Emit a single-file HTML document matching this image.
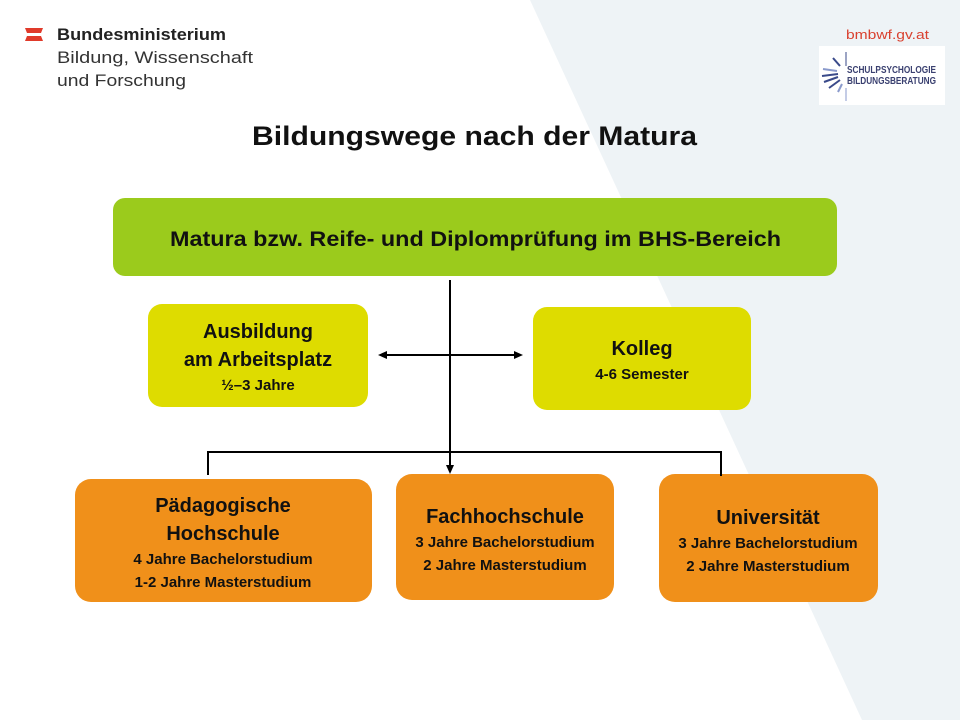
<!DOCTYPE html>
<html><head><meta charset="utf-8"><style>
html,body{margin:0;padding:0;width:960px;height:720px;overflow:hidden;background:#fff}
svg{display:block}
.b{font-family:"Liberation Sans",sans-serif;font-weight:bold;fill:#111}
</style></head><body>
<svg width="960" height="720" viewBox="0 0 960 720" xmlns="http://www.w3.org/2000/svg">
<polygon points="530,0 960,0 960,720 862,720" fill="#eef3f6"/>
<polygon points="25,28 43,28 41,33 27,33" fill="#e03a2a"/>
<polygon points="27,36 41,36 43,41 25,41" fill="#e03a2a"/>
<text x="57" y="40" font-family="Liberation Sans,sans-serif" font-size="17" fill="#222" font-weight="bold" textLength="169" lengthAdjust="spacingAndGlyphs">Bundesministerium</text>
<text x="57" y="63" font-family="Liberation Sans,sans-serif" font-size="17" fill="#333" textLength="196" lengthAdjust="spacingAndGlyphs">Bildung, Wissenschaft</text>
<text x="57" y="86" font-family="Liberation Sans,sans-serif" font-size="17" fill="#333" textLength="129" lengthAdjust="spacingAndGlyphs">und Forschung</text>
<text x="846" y="39" font-family="Liberation Sans,sans-serif" font-size="13" fill="#d9412f" textLength="83" lengthAdjust="spacingAndGlyphs">bmbwf.gv.at</text>
<rect x="819" y="46" width="126" height="59" fill="#fff"/>
<g stroke="#3a4a8a" stroke-width="2">
<line x1="833" y1="58" x2="840" y2="66"/><line x1="846" y1="52" x2="846" y2="66" stroke-width="1"/>
<line x1="823" y1="69" x2="837" y2="71" stroke="#8a9acc"/><line x1="822" y1="76" x2="838" y2="74"/>
<line x1="824" y1="82" x2="838" y2="77"/><line x1="829" y1="88" x2="840" y2="80"/>
<line x1="838" y1="92" x2="842" y2="84" stroke="#8a9acc"/><line x1="846" y1="88" x2="846" y2="101" stroke-width="1" stroke="#8a9acc"/>
</g>
<text x="847" y="73" font-family="Liberation Sans,sans-serif" font-weight="bold" font-size="10" fill="#3a4070" textLength="89" lengthAdjust="spacingAndGlyphs">SCHULPSYCHOLOGIE</text>
<text x="847" y="84" font-family="Liberation Sans,sans-serif" font-weight="bold" font-size="10" fill="#3a4070" textLength="89" lengthAdjust="spacingAndGlyphs">BILDUNGSBERATUNG</text>
<text x="252" y="145" font-family="Liberation Sans,sans-serif" font-weight="bold" font-size="27" fill="#111" textLength="445" lengthAdjust="spacingAndGlyphs">Bildungswege nach der Matura</text>
<rect x="113" y="198" width="724" height="78" rx="12" fill="#9bcb1c"/>
<text x="170" y="246" font-family="Liberation Sans,sans-serif" font-weight="bold" font-size="21" fill="#111" textLength="611" lengthAdjust="spacingAndGlyphs">Matura bzw. Reife- und Diplomprüfung im BHS-Bereich</text>
<rect x="148" y="304" width="220" height="103" rx="14" fill="#dedc00"/>
<text class="b" x="258" y="338" text-anchor="middle" font-size="20">Ausbildung</text>
<text class="b" x="258" y="366" text-anchor="middle" font-size="20">am Arbeitsplatz</text>
<text class="b" x="258" y="390" text-anchor="middle" font-size="15">½–3 Jahre</text>
<rect x="533" y="307" width="218" height="103" rx="14" fill="#dedc00"/>
<text class="b" x="642" y="355" text-anchor="middle" font-size="20">Kolleg</text>
<text class="b" x="642" y="379" text-anchor="middle" font-size="15">4-6 Semester</text>
<rect x="75" y="479" width="297" height="123" rx="16" fill="#f0901a"/>
<text class="b" x="223" y="512" text-anchor="middle" font-size="20">Pädagogische</text>
<text class="b" x="223" y="540" text-anchor="middle" font-size="20">Hochschule</text>
<text class="b" x="223" y="564" text-anchor="middle" font-size="15">4 Jahre Bachelorstudium</text>
<text class="b" x="223" y="587" text-anchor="middle" font-size="15">1-2 Jahre Masterstudium</text>
<rect x="396" y="474" width="218" height="126" rx="16" fill="#f0901a"/>
<text class="b" x="505" y="523" text-anchor="middle" font-size="20">Fachhochschule</text>
<text class="b" x="505" y="547" text-anchor="middle" font-size="15">3 Jahre Bachelorstudium</text>
<text class="b" x="505" y="570" text-anchor="middle" font-size="15">2 Jahre Masterstudium</text>
<rect x="659" y="474" width="219" height="128" rx="16" fill="#f0901a"/>
<text class="b" x="768" y="524" text-anchor="middle" font-size="20">Universität</text>
<text class="b" x="768" y="548" text-anchor="middle" font-size="15">3 Jahre Bachelorstudium</text>
<text class="b" x="768" y="571" text-anchor="middle" font-size="15">2 Jahre Masterstudium</text>
<g stroke="#000" stroke-width="2" fill="none">
<line x1="450" y1="280" x2="450" y2="466"/>
<line x1="384" y1="355" x2="516" y2="355"/>
<polyline points="208,475 208,452 721,452 721,476"/>
</g>
<polygon points="446,465 454,465 450,474" fill="#000"/>
<polygon points="378,355 387,351 387,359" fill="#000"/>
<polygon points="523,355 514,351 514,359" fill="#000"/>
</svg>
</body></html>
